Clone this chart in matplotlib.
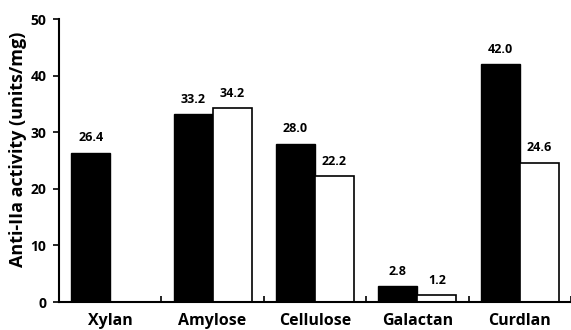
import numpy as np
import matplotlib
matplotlib.use("Agg")
import matplotlib.pyplot as plt
from matplotlib.ticker import FixedLocator

categories = ["Xylan", "Amylose", "Cellulose", "Galactan", "Curdlan"]
black_vals = [26.4, 33.2, 28.0, 2.8, 42.0]
white_vals = [np.nan, 34.2, 22.2, 1.2, 24.6]
yticks = [0, 10, 20, 30, 40, 50]

plt.rcParams['font.family'] = ['Open Sans', 'DejaVu Sans']
fig = plt.figure(figsize=(5.71, 3.30), dpi=100)
ax = fig.add_axes([0.1033, 0.0848, 0.8967, 0.8576])

x = np.arange(len(categories))
w = 0.38
ax.bar(x - w/2, black_vals, w, color='black', edgecolor='black', linewidth=1.0)
ax.bar(x + w/2, white_vals, w, color='white', edgecolor='black', linewidth=1.2)

for xi, v in zip(x, black_vals):
    ax.annotate(f"{v:.1f}", (xi - w/2, v), xytext=(0, 6), textcoords='offset points',
                ha='center', va='bottom', fontsize=9, fontweight='bold')
for xi, v in zip(x, white_vals):
    if not np.isnan(v):
        ax.annotate(f"{v:.1f}", (xi + w/2, v), xytext=(0, 6), textcoords='offset points',
                    ha='center', va='bottom', fontsize=9, fontweight='bold')

ax.set_xlim(-0.5, 4.5)
ax.set_ylim(0, 50)
ax.set_yticks(yticks)
ax.set_xticks(x)
ax.set_xticklabels(categories, fontsize=11.5, fontweight='bold')
ax.xaxis.set_minor_locator(FixedLocator(np.arange(0.5, 5, 1)))
ax.tick_params(axis='x', which='major', length=0, pad=8)
ax.tick_params(axis='x', which='minor', direction='in', length=4, width=1.2)
ax.tick_params(axis='y', direction='out', length=4, width=1.2, labelsize=10, pad=5)
for lab in ax.get_yticklabels():
    lab.set_fontweight('bold')
ax.set_ylabel("Anti-IIa activity (units/mg)", fontsize=13, fontweight='bold')
ax.yaxis.set_label_coords(-0.0625, 0.54)
for s in ['top', 'right']:
    ax.spines[s].set_visible(False)
for s in ['left', 'bottom']:
    ax.spines[s].set_linewidth(1.5)

fig.savefig("out.png", dpi=100)
